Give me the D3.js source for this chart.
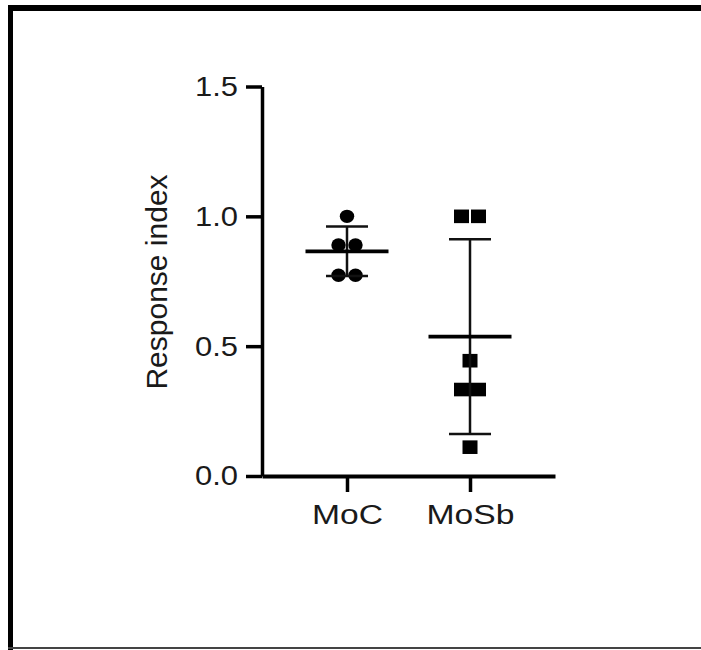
<!DOCTYPE html>
<html>
<head>
<meta charset="utf-8">
<script src="https://cdn.jsdelivr.net/npm/d3@7"></script>
<style>
  html, body { margin: 0; padding: 0; background: #fff; }
  svg { display: block; }
  text { font-family: "Liberation Sans", Arial, Helvetica, sans-serif; fill: #1a1a1a; }
</style>
</head>
<body>
<svg id="chart" width="701" height="650"></svg>
<script>
// ---- data ----
const categories = ["MoC", "MoSb"];
const mocValues  = [1.0, 0.89, 0.89, 0.773, 0.773];
const mosbValues = [1.0, 1.0, 0.444, 0.333, 0.333, 0.111];
const yTicks = [0.0, 0.5, 1.0, 1.5];
const yLabel = "Response index";

const groups = [
  { name: categories[0], values: mocValues,  shape: "circle" },
  { name: categories[1], values: mosbValues, shape: "square" }
];

const svg = d3.select("#chart");

// frame
svg.append("rect").attr("x", 8).attr("y", 5).attr("width", 693).attr("height", 6).attr("fill", "#000");
svg.append("rect").attr("x", 8).attr("y", 5).attr("width", 5).attr("height", 645).attr("fill", "#000");
svg.append("rect").attr("x", 8).attr("y", 647).attr("width", 693).attr("height", 2).attr("fill", "#444");

// scales
const y = d3.scaleLinear().domain([0, 1.5]).range([476, 86.5]);
const x = d3.scalePoint().domain(categories).range([262, 555]).padding(0.691);

// y axis
const yAxis = svg.append("g")
  .attr("transform", "translate(262,0)")
  .call(d3.axisLeft(y).tickValues(yTicks).tickFormat(d3.format(".1f")).tickSize(16).tickSizeOuter(0).tickPadding(8));
yAxis.select(".domain").attr("stroke", "#000").attr("stroke-width", 3.5);
yAxis.selectAll(".tick line").attr("stroke", "#000").attr("stroke-width", 3.5);
yAxis.selectAll(".tick text")
  .attr("font-size", 28).attr("fill", "#1a1a1a")
  .attr("textLength", 43).attr("lengthAdjust", "spacingAndGlyphs")
  .attr("font-family", "Liberation Sans, Arial, sans-serif");

// x axis
const xAxis = svg.append("g")
  .attr("transform", "translate(0,476)")
  .call(d3.axisBottom(x).tickSize(16).tickSizeOuter(0).tickPadding(13));
xAxis.select(".domain").attr("stroke", "#000").attr("stroke-width", 4);
xAxis.selectAll(".tick line").attr("stroke", "#000").attr("stroke-width", 3.5);
const xLabelWidths = { "MoC": 71, "MoSb": 88 };
xAxis.selectAll(".tick text")
  .attr("font-size", 27).attr("fill", "#1a1a1a")
  .attr("textLength", d => xLabelWidths[d]).attr("lengthAdjust", "spacingAndGlyphs")
  .attr("font-family", "Liberation Sans, Arial, sans-serif");

// y label
svg.append("text")
  .attr("transform", "translate(167,282) rotate(-90)")
  .attr("text-anchor", "middle")
  .attr("font-size", 30)
  .text(yLabel);

// points with symmetric spreading of equal values
const spread = 8.5;
groups.forEach(g => {
  const cx = x(g.name);
  const counts = d3.rollup(g.values, v => v.length, d => d);
  const seen = new Map();
  const pts = g.values.map(v => {
    const n = counts.get(v);
    const k = seen.get(v) || 0;
    seen.set(v, k + 1);
    const off = (k - (n - 1) / 2) * 2 * spread;
    return { v, px: cx + off };
  });
  const gp = svg.append("g");
  if (g.shape === "circle") {
    gp.selectAll("ellipse").data(pts).join("ellipse")
      .attr("cx", d => d.px).attr("cy", d => y(d.v))
      .attr("rx", 7.2).attr("ry", 6.7).attr("fill", "#000");
  } else {
    gp.selectAll("rect").data(pts).join("rect")
      .attr("x", d => d.px - 7.5).attr("y", d => y(d.v) - 6.8)
      .attr("width", 15).attr("height", 13.6).attr("fill", "#000");
  }

  // mean and SD
  const m = d3.mean(g.values);
  const sd = d3.deviation(g.values);
  const ge = svg.append("g").attr("stroke", "#111");
  ge.append("line").attr("x1", cx).attr("x2", cx).attr("y1", y(m + sd)).attr("y2", y(m - sd)).attr("stroke-width", 2.5);
  [m + sd, m - sd].forEach(v => {
    ge.append("line").attr("x1", cx - 21).attr("x2", cx + 21).attr("y1", y(v)).attr("y2", y(v)).attr("stroke-width", 2.5);
  });
  ge.append("line").attr("x1", cx - 41.5).attr("x2", cx + 41.5).attr("y1", y(m)).attr("y2", y(m)).attr("stroke-width", 3.6).attr("stroke", "#000");
});
</script>
</body>
</html>
